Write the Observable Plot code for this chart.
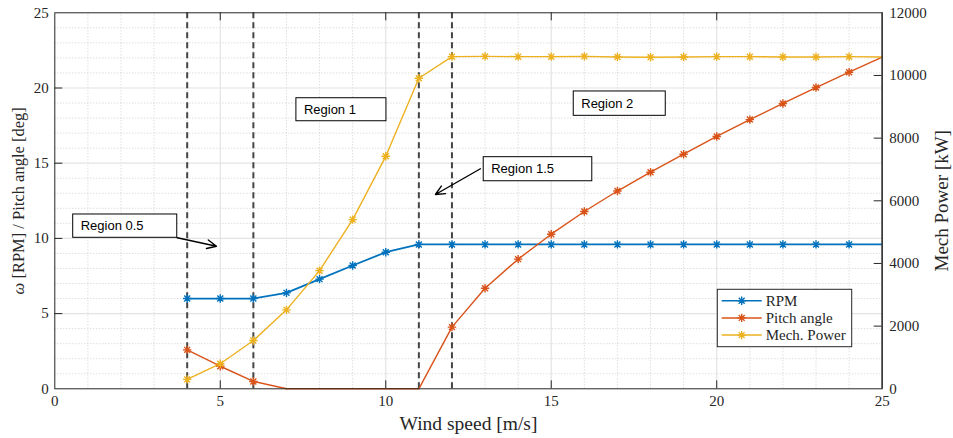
<!DOCTYPE html>
<html>
<head>
<meta charset="utf-8">
<script src="https://cdn.jsdelivr.net/npm/d3@7"></script>
<script src="https://cdn.jsdelivr.net/npm/@observablehq/plot@0.6"></script>
<style>
  html, body { margin: 0; padding: 0; background: #fff; }
  #chart { width: 953px; height: 438px; }
</style>
</head>
<body>
<div id="chart"></div>
<script>
// Turbine operating curves versus wind speed
const windSpeed = [4, 5, 6, 7, 8, 9, 10, 11, 12, 13, 14, 15, 16, 17, 18, 19, 20, 21, 22, 23, 24, 25];
const rpm = [6.0, 6.0, 6.0, 6.38, 7.29, 8.2, 9.08, 9.6, 9.6, 9.6, 9.6, 9.6, 9.6, 9.6, 9.6, 9.6, 9.6, 9.6, 9.6, 9.6, 9.6, 9.6];
const pitchAngle = [2.59, 1.5, 0.49, 0, 0, 0, 0, 0, 4.1, 6.69, 8.62, 10.28, 11.79, 13.15, 14.4, 15.6, 16.78, 17.9, 18.97, 20.03, 21.05, 22.05];
const mechPower = [300, 800, 1540, 2520, 3770, 5400, 7420, 9910, 10600, 10610, 10600, 10600, 10610, 10590, 10580, 10590, 10600, 10600, 10590, 10590, 10600, 10590];

const regionBounds = [4, 6, 11, 12];
const xTicks = [0, 5, 10, 15, 20, 25];
const yTicks = [0, 5, 10, 15, 20, 25];
const powerTicks = [0, 2000, 4000, 6000, 8000, 10000, 12000];
const seriesNames = ["RPM", "Pitch angle", "Mech. Power"];
const seriesColors = ["#0072BD", "#D95319", "#EDB120"];
const xTitle = "Wind speed [m/s]";
const yTitle = "ω [RPM] / Pitch angle [deg]";
const y2Title = "Mech Power [kW]";

// Power shares the left-hand scale: 12000 kW maps onto 25 units
const yMax = 25, powerMax = 12000;
const toLeft = p => p * yMax / powerMax;

const W = 953, H = 438;
const mL = 54.3, mR = 71.3, mT = 12.3, mB = 49.7;
const frameW = W - mL - mR, frameH = H - mT - mB;
const tick = 8;

const rows = windSpeed.map((x, i) => ({x, rpm: rpm[i], pitch: pitchAngle[i], power: toLeft(mechPower[i])}));
const markerRows = rows.filter(d => d.x < 25);

// MATLAB-style asterisk: a plus overlaid with a cross
const asterisk = {
  draw(ctx, size) {
    const r = Math.sqrt(size / Math.PI), d = r * Math.SQRT1_2;
    ctx.moveTo(-r, 0); ctx.lineTo(r, 0);
    ctx.moveTo(0, -r); ctx.lineTo(0, r);
    ctx.moveTo(-d, -d); ctx.lineTo(d, d);
    ctx.moveTo(-d, d); ctx.lineTo(d, -d);
  }
};

const minorX = d3.range(0, 26).filter(v => v % 5 !== 0);
const minorY = d3.range(0, 26).filter(v => v % 5 !== 0);

const boxes = [
  {label: "Region 0.5", x1: 0.556, x2: 3.70, y1: 10.04, y2: 11.59},
  {label: "Region 1", x1: 7.30, x2: 10.02, y1: 17.79, y2: 19.32},
  {label: "Region 1.5", x1: 12.96, x2: 16.24, y1: 13.80, y2: 15.40},
  {label: "Region 2", x1: 15.68, x2: 18.46, y1: 18.15, y2: 19.77}
];
const arrows = [
  {x1: 3.70, y1: 10.04, x2: 4.885, y2: 9.48},
  {x1: 12.86, y1: 14.63, x2: 11.50, y2: 12.92}
];

const sans = "Liberation Sans, Arial, Helvetica, sans-serif";
const serif = "Liberation Serif, Times New Roman, serif";

const chart = Plot.plot({
  width: W, height: H,
  marginLeft: mL, marginRight: mR, marginTop: mT, marginBottom: mB,
  style: {fontFamily: serif, fontSize: "15px", color: "#262626", background: "#fff"},
  x: {domain: [0, 25]},
  y: {domain: [0, yMax]},
  marks: [
    // grid
    Plot.ruleX(minorX, {stroke: "#cfcfcf", strokeDasharray: "1,2", strokeWidth: 1}),
    Plot.ruleY(minorY, {stroke: "#cfcfcf", strokeDasharray: "1,2", strokeWidth: 1}),
    Plot.ruleX([5, 10, 15, 20], {stroke: "#e3e3e3", strokeWidth: 1.2}),
    Plot.ruleY([5, 10, 15, 20], {stroke: "#e3e3e3", strokeWidth: 1.2}),
    // region boundaries
    Plot.ruleX(regionBounds, {stroke: "#454545", strokeWidth: 2, strokeDasharray: "6,4"}),
    // series
    Plot.line(rows, {x: "x", y: "rpm", stroke: seriesColors[0], strokeWidth: 1.8}),
    Plot.line(rows, {x: "x", y: "pitch", stroke: seriesColors[1], strokeWidth: 1.4}),
    Plot.line(rows, {x: "x", y: "power", stroke: seriesColors[2], strokeWidth: 1.4}),
    Plot.dot(markerRows, {x: "x", y: "rpm", symbol: asterisk, r: 4.2, stroke: seriesColors[0], fill: "none", strokeWidth: 1.4}),
    Plot.dot(markerRows.filter(d => d.pitch > 0), {x: "x", y: "pitch", symbol: asterisk, r: 4.2, stroke: seriesColors[1], fill: "none", strokeWidth: 1.4}),
    Plot.dot(markerRows, {x: "x", y: "power", symbol: asterisk, r: 4.2, stroke: seriesColors[2], fill: "none", strokeWidth: 1.4}),
    // annotations
    Plot.arrow(arrows, {x1: "x1", y1: "y1", x2: "x2", y2: "y2", stroke: "#000", strokeWidth: 1.4, headLength: 11, headAngle: 50}),
    Plot.rect(boxes, {x1: "x1", x2: "x2", y1: "y1", y2: "y2", fill: "#fff", stroke: "#000", strokeWidth: 1}),
    Plot.text(boxes, {x: "x1", y: d => (d.y1 + d.y2) / 2, text: "label", textAnchor: "start", dx: 7.5, fontFamily: sans, fontSize: 13, fill: "#000"}),
    // tick marks, pointing inward
    Plot.ruleX(xTicks.slice(1, -1), {insetTop: frameH - tick, stroke: "#262626"}),
    Plot.ruleX(xTicks.slice(1, -1), {insetBottom: frameH - tick, stroke: "#262626"}),
    Plot.ruleY(yTicks.slice(1, -1), {insetRight: frameW - tick, stroke: "#262626"}),
    Plot.ruleY(powerTicks.slice(1, -1).map(toLeft), {insetLeft: frameW - tick, stroke: "#262626"}),
    // axes
    Plot.axisX(xTicks, {tickSize: 0, tickPadding: 7, label: null, fontSize: 15}),
    Plot.axisY(yTicks, {anchor: "left", tickSize: 0, tickPadding: 6, label: null, fontSize: 15}),
    Plot.axisY(powerTicks.map(toLeft), {anchor: "right", tickSize: 0, tickPadding: 7, label: null, fontSize: 15,
      tickFormat: v => String(Math.round(v * powerMax / yMax))}),
    Plot.frame({stroke: "#262626", strokeWidth: 1}),
    Plot.ruleX([25], {stroke: "#3a3a3a", strokeWidth: 1.6}),
    // axis titles
    Plot.text([xTitle], {frameAnchor: "bottom", textAnchor: "middle", dy: 41, fontSize: 19.5, fill: "#262626"}),
    Plot.text([yTitle], {frameAnchor: "left", textAnchor: "middle", rotate: -90, dx: -36, fontSize: 16.5, fill: "#262626"}),
    Plot.text([y2Title], {frameAnchor: "right", textAnchor: "middle", rotate: -90, dx: 60, fontSize: 19, fill: "#262626"})
  ]
});

const svg = d3.select(chart);

// italic omega in the left axis title
svg.selectAll("text").filter(function() { return this.textContent === yTitle; })
  .each(function() {
    const t = d3.select(this);
    t.text(null);
    t.append("tspan").attr("font-style", "italic").text("ω");
    t.append("tspan").text(yTitle.slice(1));
  });

// Legend box in the lower right of the frame
const lg = svg.append("g").attr("font-family", serif).attr("font-size", 15).attr("text-anchor", "start");
lg.append("rect").attr("x", 717.3).attr("y", 289.3).attr("width", 134.4).attr("height", 57.4)
  .attr("fill", "#fff").attr("stroke", "#262626").attr("stroke-width", 1);
const sym = d3.symbol(asterisk, Math.PI * 4.2 * 4.2);
seriesNames.forEach((name, i) => {
  const cy = 300.7 + i * 17.2;
  lg.append("line").attr("x1", 721.7).attr("x2", 761.7).attr("y1", cy).attr("y2", cy)
    .attr("stroke", seriesColors[i]).attr("stroke-width", 1.5);
  lg.append("path").attr("d", sym()).attr("transform", `translate(741.7,${cy})`)
    .attr("stroke", seriesColors[i]).attr("fill", "none").attr("stroke-width", 1.4);
  lg.append("text").attr("x", 765.7).attr("y", cy).attr("dy", "0.35em").attr("fill", "#262626").text(name);
});

document.getElementById("chart").appendChild(chart);
</script>
</body>
</html>
